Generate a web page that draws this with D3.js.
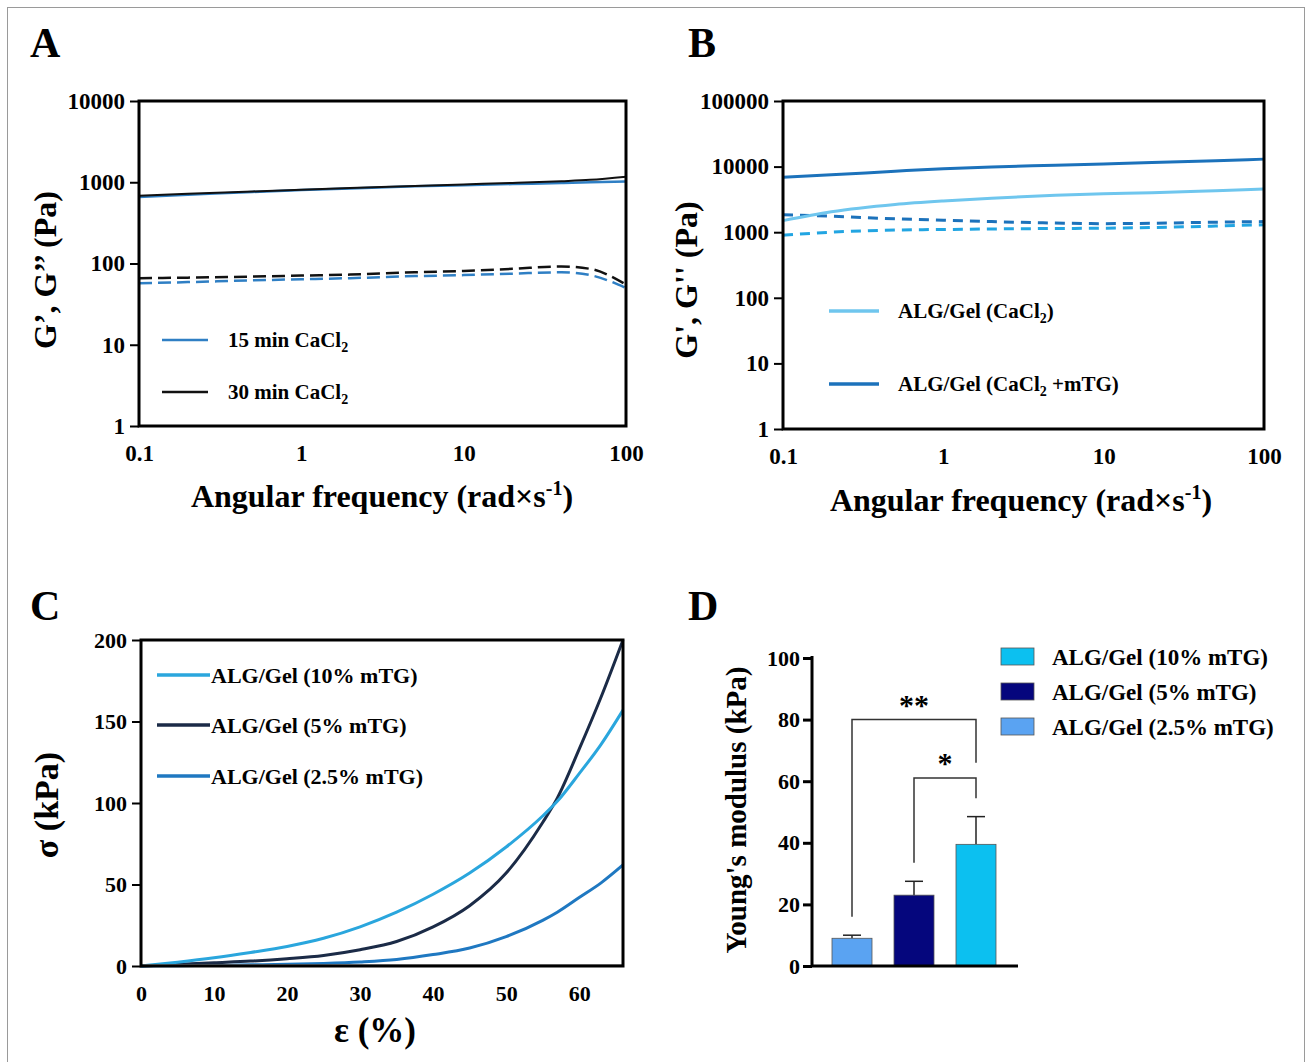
<!DOCTYPE html>
<html>
<head>
<meta charset="utf-8">
<script src="https://cdn.jsdelivr.net/npm/d3@7"></script>
<style>
  body { margin: 0; background: #fff; }
  svg { display: block; }
  text { font-family: "Liberation Serif", "Times New Roman", serif; font-weight: bold; fill: #000; }
</style>
</head>
<body>
<svg id="fig" width="1309" height="1062"></svg>
<script>
// ---- data ----
// panel A: frequency sweep, 15 vs 30 min CaCl2
const freqA = [0.1, 0.2, 0.5, 1, 2, 5, 10, 20, 40, 60, 100];
const gp15 = [660, 700, 760, 800, 840, 890, 920, 950, 980, 1000, 1020];
const gp30 = [680, 720, 770, 810, 850, 900, 940, 980, 1030, 1070, 1170];
const gpp15 = [57, 59, 62, 64, 66, 70, 72, 75, 78, 72, 50];
const gpp30 = [66, 67, 69, 71, 73, 78, 81, 86, 92, 86, 55];

// panel B: ALG/Gel CaCl2 vs CaCl2 + mTG
const freqB = [0.1, 0.2, 0.5, 1, 2, 5, 10, 20, 50, 100];
const gpCa = [1500, 2050, 2650, 3000, 3300, 3650, 3850, 4000, 4300, 4550];
const gpMtg = [6900, 7500, 8500, 9300, 9900, 10500, 11000, 11500, 12300, 13000];
const gppCa = [900, 1000, 1080, 1100, 1120, 1140, 1150, 1180, 1240, 1300];
const gppMtg = [1850, 1750, 1600, 1520, 1450, 1380, 1350, 1370, 1420, 1450];

// panel C: stress-strain
const strain = [0, 5, 10, 15, 20, 25, 30, 35, 40, 45, 50, 55, 57, 60, 63, 66];
const s10 = [0, 2.3, 5, 8.3, 12, 17, 24, 33, 44, 57, 73, 92, 101, 118, 136, 157];
const s5 = [0, 1, 2, 3, 4.5, 6.5, 10, 15, 24, 37, 57, 88, 103, 133, 165, 200];
const s25 = [0, 0.2, 0.4, 0.7, 1, 1.6, 2.5, 4, 7, 11, 18, 28, 33, 42, 51, 62];

// panel D: Young's modulus
const groupsD = ["ALG/Gel (2.5% mTG)", "ALG/Gel (5% mTG)", "ALG/Gel (10% mTG)"];
const meanD = [9, 23, 39.5];
const errD = [1, 4.5, 9];
const legendD = ["ALG/Gel (10% mTG)", "ALG/Gel (5% mTG)", "ALG/Gel (2.5% mTG)"];

const svg = d3.select("#fig");
const font = '"Liberation Serif", "Times New Roman", serif';

// outer frame
svg.append("rect")
  .attr("x", 7.5).attr("y", 7.5).attr("width", 1297).attr("height", 1070)
  .attr("fill", "none").attr("stroke", "#9a9a9a").attr("stroke-width", 1);

// panel letters
[["A", 30, 57], ["B", 688, 57], ["C", 30, 620], ["D", 688, 620]].forEach(function (d) {
  svg.append("text").attr("x", d[1]).attr("y", d[2]).attr("font-size", 42).text(d[0]);
});

function powLabel(d) { return String(d); }

// log-log axes (tick labels only, box drawn after the lines)
function logPanel(o) {
  const x = d3.scaleLog().domain([0.1, 100]).range([o.left, o.right]);
  const y = d3.scaleLog().domain([1, o.ymax]).range([o.bottom, o.top]);
  const g = svg.append("g");

  const yt = [];
  for (let v = 1; v <= o.ymax; v *= 10) yt.push(v);
  g.append("g")
    .attr("transform", "translate(" + o.left + ",0)")
    .call(d3.axisLeft(y).tickValues(yt).tickFormat(powLabel).tickSize(9).tickPadding(5))
    .call(function (a) {
      a.select(".domain").remove();
      a.selectAll("line").attr("stroke", "#000").attr("stroke-width", 2);
      a.selectAll("text").attr("font-size", 23).attr("font-family", font).attr("font-weight", "bold");
    });
  g.append("g")
    .attr("transform", "translate(0," + o.bottom + ")")
    .call(d3.axisBottom(x).tickValues([0.1, 1, 10, 100]).tickFormat(powLabel).tickSize(0).tickPadding(19))
    .call(function (a) {
      a.select(".domain").remove();
      a.selectAll("text").attr("font-size", 23).attr("font-family", font).attr("font-weight", "bold");
    });

  return { x: x, y: y, g: g };
}

function frame(o) {
  svg.append("rect")
    .attr("x", o.left).attr("y", o.top)
    .attr("width", o.right - o.left).attr("height", o.bottom - o.top)
    .attr("fill", "none").attr("stroke", "#000").attr("stroke-width", 3);
}

// ---------- Panel A ----------
const pA = { left: 139, right: 626, top: 101, bottom: 426, ymax: 10000 };
const A = logPanel(pA);
const lineA = d3.line().x(function (d) { return A.x(d[0]); }).y(function (d) { return A.y(d[1]); }).curve(d3.curveMonotoneX);
const seriesA = [
  { v: gpp15, c: "#2f7fc4", dash: "13,6", w: 2.5 },
  { v: gpp30, c: "#111", dash: "13,6", w: 2.5 },
  { v: gp15, c: "#2f7fc4", dash: null, w: 2.5 },
  { v: gp30, c: "#111", dash: null, w: 2 }
];
seriesA.forEach(function (s) {
  A.g.append("path")
    .attr("d", lineA(freqA.map(function (f, i) { return [f, s.v[i]]; })))
    .attr("fill", "none").attr("stroke", s.c).attr("stroke-width", s.w)
    .attr("stroke-dasharray", s.dash);
});
frame(pA);
[["15 min CaCl", "#2f7fc4", 340], ["30 min CaCl", "#111", 392]].forEach(function (d) {
  svg.append("line").attr("x1", 162).attr("x2", 208).attr("y1", d[2]).attr("y2", d[2])
    .attr("stroke", d[1]).attr("stroke-width", 2.5);
  const t = svg.append("text").attr("x", 228).attr("y", d[2] + 7).attr("font-size", 21);
  t.append("tspan").text(d[0]);
  t.append("tspan").attr("font-size", 14).attr("dy", 5).text("2");
});
svg.append("text")
  .attr("transform", "translate(56,270) rotate(-90)")
  .attr("text-anchor", "middle").attr("font-size", 32)
  .text("G\u2019, G\u2019\u2019 (Pa)");
const xtA = svg.append("text").attr("x", 382).attr("y", 507).attr("text-anchor", "middle").attr("font-size", 32);
xtA.append("tspan").text("Angular frequency (rad\u00d7s");
xtA.append("tspan").attr("font-size", 20).attr("dy", -12).text("-1");
xtA.append("tspan").attr("dy", 12).text(")");

// ---------- Panel B ----------
const pB = { left: 783, right: 1264, top: 101, bottom: 429, ymax: 100000 };
const B = logPanel(pB);
const lineB = d3.line().x(function (d) { return B.x(d[0]); }).y(function (d) { return B.y(d[1]); }).curve(d3.curveMonotoneX);
const seriesB = [
  { v: gppCa, c: "#22a5e2", dash: "10,7", w: 3 },
  { v: gppMtg, c: "#1c72bb", dash: "10,7", w: 3 },
  { v: gpCa, c: "#6fc6ee", dash: null, w: 3 },
  { v: gpMtg, c: "#1c72bb", dash: null, w: 3 }
];
seriesB.forEach(function (s) {
  B.g.append("path")
    .attr("d", lineB(freqB.map(function (f, i) { return [f, s.v[i]]; })))
    .attr("fill", "none").attr("stroke", s.c).attr("stroke-width", s.w)
    .attr("stroke-dasharray", s.dash);
});
frame(pB);
[["ALG/Gel (CaCl", ")", "#6fc6ee", 311], ["ALG/Gel (CaCl", " +mTG)", "#1c72bb", 384]].forEach(function (d) {
  svg.append("line").attr("x1", 829).attr("x2", 879).attr("y1", d[3]).attr("y2", d[3])
    .attr("stroke", d[2]).attr("stroke-width", 3.5);
  const t = svg.append("text").attr("x", 898).attr("y", d[3] + 7).attr("font-size", 21);
  t.append("tspan").text(d[0]);
  t.append("tspan").attr("font-size", 14).attr("dy", 5).text("2");
  t.append("tspan").attr("dy", -5).text(d[1]);
});
svg.append("text")
  .attr("transform", "translate(697,280) rotate(-90)")
  .attr("text-anchor", "middle").attr("font-size", 32)
  .text("G', G'' (Pa)");
const xtB = svg.append("text").attr("x", 1021).attr("y", 511).attr("text-anchor", "middle").attr("font-size", 32);
xtB.append("tspan").text("Angular frequency (rad\u00d7s");
xtB.append("tspan").attr("font-size", 20).attr("dy", -12).text("-1");
xtB.append("tspan").attr("dy", 12).text(")");

// ---------- Panel C ----------
const pC = { left: 141, right: 623, top: 640, bottom: 966 };
const xC = d3.scaleLinear().domain([0, 66]).range([pC.left, pC.right]);
const yC = d3.scaleLinear().domain([0, 200]).range([pC.bottom, pC.top]);
svg.append("g")
  .attr("transform", "translate(" + pC.left + ",0)")
  .call(d3.axisLeft(yC).tickValues([0, 50, 100, 150, 200]).tickSize(9).tickPadding(5))
  .call(function (a) {
    a.select(".domain").remove();
    a.selectAll("line").attr("stroke", "#000").attr("stroke-width", 2);
    a.selectAll("text").attr("font-size", 22).attr("font-family", font).attr("font-weight", "bold");
  });
svg.append("g")
  .attr("transform", "translate(0," + pC.bottom + ")")
  .call(d3.axisBottom(xC).tickValues([0, 10, 20, 30, 40, 50, 60]).tickSize(0).tickPadding(19))
  .call(function (a) {
    a.select(".domain").remove();
    a.selectAll("text").attr("font-size", 22).attr("font-family", font).attr("font-weight", "bold");
  });
const lineC = d3.line().x(function (d) { return xC(d[0]); }).y(function (d) { return yC(d[1]); }).curve(d3.curveMonotoneX);
const seriesC = [
  { v: s25, c: "#1f78c1", name: "ALG/Gel (2.5% mTG)", ly: 776 },
  { v: s5, c: "#1b2b47", name: "ALG/Gel (5% mTG)", ly: 725 },
  { v: s10, c: "#2aa6dd", name: "ALG/Gel (10% mTG)", ly: 675 }
];
seriesC.forEach(function (s) {
  svg.append("path")
    .attr("d", lineC(strain.map(function (e, i) { return [e, s.v[i]]; })))
    .attr("fill", "none").attr("stroke", s.c).attr("stroke-width", 3);
  svg.append("line").attr("x1", 157).attr("x2", 210).attr("y1", s.ly).attr("y2", s.ly)
    .attr("stroke", s.c).attr("stroke-width", 3.5);
  svg.append("text").attr("x", 211).attr("y", s.ly + 8).attr("font-size", 22).text(s.name);
});
svg.append("line").attr("x1", pC.left).attr("x2", pC.right).attr("y1", pC.bottom - 1).attr("y2", pC.bottom - 1)
  .attr("stroke", "#999").attr("stroke-width", 1.5);
frame(pC);
svg.append("text")
  .attr("transform", "translate(58,805) rotate(-90)")
  .attr("text-anchor", "middle").attr("font-size", 34)
  .text("\u03c3 (kPa)");
svg.append("text").attr("x", 375).attr("y", 1042).attr("text-anchor", "middle").attr("font-size", 35)
  .text("\u03b5 (%)");

// ---------- Panel D ----------
const colorD = d3.scaleOrdinal().domain(groupsD).range(["#5aa3f2", "#05067d", "#0cc0f0"]);
const xD = d3.scalePoint().domain(groupsD).range([852, 976]);
const yD = d3.scaleLinear().domain([0, 100]).range([966, 658]);
const barW = 40;
svg.append("g")
  .attr("transform", "translate(812,0)")
  .call(d3.axisLeft(yD).tickValues([0, 20, 40, 60, 80, 100]).tickSize(9).tickPadding(3))
  .call(function (a) {
    a.select(".domain").attr("stroke-width", 3).attr("d", "M0,656V967");
    a.selectAll("line").attr("stroke", "#000").attr("stroke-width", 3);
    a.selectAll("text").attr("font-size", 22).attr("font-family", font).attr("font-weight", "bold");
  });
// error bars (upper only)
groupsD.forEach(function (gname, i) {
  const cx = xD(gname);
  svg.append("line").attr("x1", cx).attr("x2", cx).attr("y1", yD(meanD[i])).attr("y2", yD(meanD[i] + errD[i]))
    .attr("stroke", "#222").attr("stroke-width", 1.5);
  svg.append("line").attr("x1", cx - 9).attr("x2", cx + 9).attr("y1", yD(meanD[i] + errD[i])).attr("y2", yD(meanD[i] + errD[i]))
    .attr("stroke", "#222").attr("stroke-width", 1.5);
});
svg.append("g").selectAll("rect")
  .data(groupsD).enter()
  .append("rect")
  .attr("x", function (d) { return xD(d) - barW / 2; })
  .attr("y", function (d, i) { return yD(meanD[i]); })
  .attr("width", barW)
  .attr("height", function (d, i) { return yD(0) - yD(meanD[i]); })
  .attr("fill", function (d) { return colorD(d); })
  .attr("stroke", "#555").attr("stroke-width", 0.8);
svg.append("line").attr("x1", 811).attr("x2", 1018).attr("y1", 966).attr("y2", 966)
  .attr("stroke", "#000").attr("stroke-width", 3);

// significance brackets
function bracket(a, b, yTop, yA, yB, label) {
  const xa = xD(groupsD[a]), xb = xD(groupsD[b]);
  svg.append("path")
    .attr("d", "M" + xa + "," + yD(yA) + "V" + yD(yTop) + "H" + xb + "V" + yD(yB))
    .attr("fill", "none").attr("stroke", "#333").attr("stroke-width", 1.5);
  svg.append("text").attr("x", (xa + xb) / 2).attr("y", yD(yTop) - 5)
    .attr("text-anchor", "middle").attr("font-size", 30).text(label);
}
bracket(0, 2, 80, 16, 66, "**");
bracket(1, 2, 61, 33.5, 54.5, "*");

svg.append("text")
  .attr("transform", "translate(746,810) rotate(-90)")
  .attr("text-anchor", "middle").attr("font-size", 29)
  .text("Young's modulus (kPa)");

legendD.forEach(function (name, i) {
  const yy = 648 + i * 35;
  svg.append("rect").attr("x", 1001).attr("y", yy).attr("width", 33).attr("height", 17)
    .attr("fill", colorD(name)).attr("stroke", "#555").attr("stroke-width", 0.8);
  svg.append("text").attr("x", 1052).attr("y", yy + 17).attr("font-size", 23).text(name);
});
</script>
</body>
</html>
